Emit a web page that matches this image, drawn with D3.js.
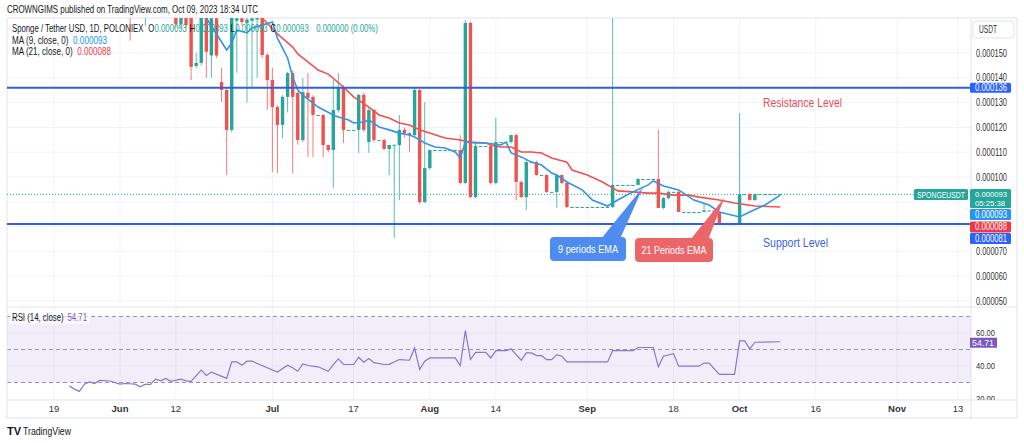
<!DOCTYPE html>
<html>
<head>
<meta charset="utf-8">
<script src="https://cdnjs.cloudflare.com/ajax/libs/d3/7.8.5/d3.min.js"></script>
<style>
	body { margin: 0; background: #fff; }
	svg { display: block; font-family: "Liberation Sans", Arial, sans-serif; }
</style>
</head>
<body>
<svg id="chart" width="1024" height="443"></svg>
<script>
// daily candles from Jun 1 2023, prices in millionths of a USDT
var firstDay = "2023-06-01"
var opens = [190,185,176,170,168,167,172,168,166,169,167,166,161.7,166,165,144.8,146,165,149,164,
	138.3,135.1,119,163,164,162,163,163.5,165,149.2,139.1,128.2,121,132.3,141.9,133.9,114.9,133.9,132.3,125,
	125,112.9,110.9,127,135.9,119,119,119,133.1,114.1,127,114.9,114.9,111.3,112.9,112.9,119,117.7,116.9,135.1,
	89.9,103.6,110.9,110.9,110.9,110.9,110.9,110.9,97.6,162.1,91.9,112.5,112.5,112.5,97.6,114.1,114.1,114.1,116.9,98,
	91.9,106,106,100.8,100.8,94,94,100.8,97.6,87.9,87.9,87.9,87.9,87.9,87.9,87.9,87.9,87.9,96.8,96.8,
	96.8,96.8,96.8,99.2,99.2,99.2,99.2,87.5,91.5,94,94,85.9,85.9,85.9,85.9,85.9,86.5,86.5,85.5,81,
	81,81,81,93.1,93.1,90.7,93.1,93.1,93.1,93.1,93.1]
var highs = [195,188,180,174,172,175,176,171,170,172,170,168,168,168,167,150,168,167,166,166,
	143.9,136,166,166,166,166,166,166,166,150,144,129,133,142.5,143,134.5,139.9,141.9,133,125,
	125.5,113,139.1,141.9,137,119,119,133.5,134,128,127.5,114.9,115.5,112.9,113,125,120,118,136,135.5,
	130.2,111,110.9,110.9,110.9,110.9,110.9,116.9,163.3,162.5,114,112.5,112.5,113,123.8,114.1,114.1,117,117.5,98.5,
	107,106,106.5,100.8,101,94,101,101,98,87.9,87.9,87.9,87.9,87.9,87.9,87.9,87.9,164,96.8,96.8,
	96.8,96.8,99.5,99.2,99.2,99.2,119,92,94.5,94,94.5,85.9,85.9,85.9,85.9,89.5,86.5,86.5,86,81,
	81,81,125.8,93.1,93.5,93.1,93.1,93.1,93.1,93.1,93.1]
var lows = [180,172,155,166,165,161,166,165,165,166,165,160,160,160,139,144,145,140,140,148,
	130.2,100.8,118,142,161,130,136,140,148,127,102,101.6,115.7,126,101.6,113,114,108.1,108.1,125,
	108,110,95.6,126,113.7,119,119,109.7,118,109.7,114,114.9,111,100.8,75.4,90.7,116,110,116,89,
	89.5,103,110.9,110.9,110.9,110.9,110.9,97,97,91.5,91.5,112.5,112.5,97,97,114.1,114.1,113.5,90.7,91.5,
	86.7,106,100.5,100.8,93.5,94,87.5,97,87.5,87.9,87.9,87.9,87.9,87.9,87.9,87.9,87.9,87.5,96.8,96.8,
	96.8,96.8,96.8,99.2,99.2,99.2,87.5,87,91,94,85.9,85.9,85.9,85.9,85.9,85.9,86.5,85,81,81,
	81,81,81,93.1,90.5,90.5,93.1,93.1,93.1,93.1,93.1]
var closes = [185,176,170,168,167,172,168,166,169,167,166,161.7,166,161.3,144.4,146,165,150.5,164,149,
	135.1,119,165,164,162.5,163.5,164,164.5,149.2,139.1,128.2,121,132.3,141.9,132.3,114.9,134.3,131.9,125,125,
	112.9,110.9,127,135.9,119,119,119,133.1,119,127,114.9,114.9,111.3,112.9,113,119,117.7,116.9,135.1,89.9,
	103.6,110.9,110.9,110.9,110.9,110.9,110.9,97.6,162.1,91.9,112.5,112.5,112.5,97.6,114.1,114.1,114.1,116.9,98,91.9,
	106,106,100.8,100.8,94,94,100.8,97.6,87.9,87.9,87.9,87.9,87.9,87.9,87.9,87.9,87.9,96.8,96.8,96.8,
	96.8,96.8,99.2,99.2,99.2,99.2,87.5,91.5,94,94,85.9,85.9,85.9,85.9,85.9,86.5,86.5,85.5,81,81,
	81,81,93.1,93.1,90.7,93.1,93.1,93.1,93.1,93.1,93.1]

// moving averages (day offset from Jun 1, value)
var ma9Days = [10,14,17,21,22,23,25,26,28,30,31,33,34,35,36,38,39,42,43,45,46,48,49,51,53,55,57,58,60,62,
	64,66,67,68,70,72,75,76,77,79,81,83,85,86,88,91,93,96,98,101,104,105,107,110,113,116,118,122,124,127,130]
var ma9Values = [185,172,164.1,151.2,154,159.3,158.1,160.1,161.3,162.5,156,148,140.3,135.1,133,129.8,128.2,125,124.2,123,
	121.8,122.2,123,120.2,119,117.7,116.9,116.1,113.7,112.1,111.7,110.1,107.7,114.1,113.7,113.7,112.9,114.1,109.7,108.1,
	106,104.8,101.6,100.8,98,94.8,90.7,88.3,90.7,94,96.8,98.4,96.4,94.8,90.7,88.7,85.9,83.9,85.9,88.7,92.7]
var ma21Days = [22,28,31,34,35,37,39,41,44,46,49,51,53,55,57,59,62,64,67,69,72,73,75,77,79,81,83,85,88,89,
	92,95,97,98,101,104,106,109,112,114,118,121,125,130]
var ma21Values = [172,164.1,157.7,152.4,149.6,146.4,143.1,141.5,136.3,132.3,128.2,125,123.8,121.8,121,119,117,115.7,114.9,114.1,
	113.7,112.9,112.1,112.1,110.1,110.1,109.7,107.7,106,102.8,100.8,98,95.6,94.4,94,93.5,93.5,92.7,92.7,91.9,90.7,89.5,88.3,87.9]

// RSI (14, close)
var rsiDays = [-10,-9,-8,-7,-6,-5,-4,-2,0,1,3,4,5,6,7,8,9,10,12,13,14,16,17,18,21,22,23,24,25,26,
	31,33,34,35,36,37,39,41,42,43,44,46,47,48,49,50,52,53,55,57,58,59,60,61,66,67,68,69,70,72,
	73,74,76,77,78,79,80,81,82,83,84,85,86,87,88,96,97,101,102,105,106,107,109,110,114,115,116,118,121,122,
	123,124,125,130]
var rsiValues = [28,26,24.6,29,30.3,29.4,31.3,30.9,29,29.4,29,27.4,29,28.8,32,31,32.5,30.7,32,31,30.7,37.5,34.3,36.3,32.5,42.5,42.5,40.5,42.9,42.9,
	36.3,40.5,38.9,36.8,41.2,40.3,39.5,36.8,40.9,44.3,40.9,40.9,45.3,42.3,44.5,42,40.9,41,43.9,43.5,50.9,37.9,42.9,44.9,44.9,40.3,61.4,43.9,48.3,48.3,
	44.9,49.3,49.3,50.3,46.9,43.5,47.9,47.9,46.3,46.3,43.9,43.9,46.9,45.9,42.5,42.5,49.3,49.3,51.2,51.2,39.5,45.9,47.5,39.9,39.9,41.8,41.8,34.9,34.9,55.2,
	55.2,50.4,54.4,54.7]

var resistance = 136
var support = 81
var lastPrice = 93
var lastMa9 = 93
var lastMa21 = 88
var lastRsi = 54.71

var priceTicks = [50,60,70,80,90,100,110,120,130,140,150]
var rsiTicks = [20,40,60]
var timeTicks = ["2023-05-19","2023-06-01","2023-06-12","2023-07-01","2023-07-17","2023-08-01","2023-08-14",
	"2023-09-01","2023-09-18","2023-10-01","2023-10-16","2023-11-01","2023-11-13"]

var green = "#26a69a", red = "#ef5350", lineBlue = "#2f5fe0"

var left = 7, axisX = 971, right = 1017
var paneTop = 18, paneBottom = 307, rsiBottom = 400, timeBottom = 418

var svg = d3.select("#chart")
var parse = d3.utcParse("%Y-%m-%d")
var start = parse(firstDay)
var fmt6 = d3.format(".6f")
function dayDate(d){ return d3.utcDay.offset(start, d) }
function micro(v){ return fmt6(v / 1e6) }

// squeeze a text to the width it takes in the reference
function fit(sel, w){
	return sel.attr("textLength", w).attr("lengthAdjust", "spacingAndGlyphs")
}

// lay pieces out one after another, then squeeze the whole row horizontally
function textRow(x0, y0, pieces, width, size){
	var g = svg.append("g")
	var cx = 0
	pieces.forEach(function(p){
		var t = g.append("text").attr("x", cx).attr("y", 0).text(p.text)
			.style("font-size", size + "px").style("fill", p.color || "#131722")
		cx += t.node().getComputedTextLength() + (p.gap || 0)
	})
	var used = cx - (pieces[pieces.length - 1].gap || 0)
	g.attr("transform", "translate(" + x0 + "," + y0 + ") scale(" + (width / used) + ",1)")
	return g
}

var x = d3.scaleUtc()
	.domain([start, parse("2023-11-13")])
	.range([120, 958])
var y = d3.scaleLinear()
	.domain([100, 50])
	.range([177, 301])
var yr = d3.scaleLinear()
	.domain([60, 20])
	.range([333, 399])

var defs = svg.append("defs")
defs.append("clipPath").attr("id", "priceClip")
	.append("rect").attr("x", left).attr("y", paneTop).attr("width", axisX - left).attr("height", paneBottom - paneTop)
defs.append("clipPath").attr("id", "rsiClip")
	.append("rect").attr("x", left).attr("y", paneBottom).attr("width", right - left).attr("height", rsiBottom - paneBottom)

// grid
svg.append("g").selectAll("line")
	.data(timeTicks)
	.enter().append("line")
	.attr("x1", function(d){ return x(parse(d)) })
	.attr("x2", function(d){ return x(parse(d)) })
	.attr("y1", paneTop).attr("y2", rsiBottom)
	.style("stroke", "#f0f3fa")
svg.append("g").selectAll("line")
	.data(priceTicks)
	.enter().append("line")
	.attr("x1", left).attr("x2", axisX)
	.attr("y1", function(d){ return y(d) }).attr("y2", function(d){ return y(d) })
	.style("stroke", "#f0f3fa")

// rsi band
svg.append("rect")
	.attr("x", left).attr("width", axisX - left)
	.attr("y", yr(70)).attr("height", yr(30) - yr(70))
	.style("fill", "rgba(126,87,194,0.1)")
svg.append("line").attr("x1", left).attr("x2", axisX).attr("y1", yr(60)).attr("y2", yr(60)).style("stroke", "#ebe6f5")
svg.append("line").attr("x1", left).attr("x2", axisX).attr("y1", yr(40)).attr("y2", yr(40)).style("stroke", "#ebe6f5")
svg.append("g").selectAll("line")
	.data([70, 50, 30])
	.enter().append("line")
	.attr("x1", left).attr("x2", axisX)
	.attr("y1", function(d){ return yr(d) }).attr("y2", function(d){ return yr(d) })
	.style("stroke", "#9598a1").style("stroke-dasharray", "4,3")

// frame
svg.append("rect").attr("x", left).attr("y", paneTop).attr("width", right - left).attr("height", timeBottom - paneTop)
	.style("fill", "none").style("stroke", "#e0e3eb")
svg.append("line").attr("x1", axisX).attr("x2", axisX).attr("y1", paneTop).attr("y2", timeBottom).style("stroke", "#e0e3eb")
svg.append("line").attr("x1", left).attr("x2", right).attr("y1", paneBottom).attr("y2", paneBottom).style("stroke", "#e0e3eb")
svg.append("line").attr("x1", left).attr("x2", right).attr("y1", rsiBottom).attr("y2", rsiBottom).style("stroke", "#e0e3eb")

var price = svg.append("g").attr("clip-path", "url(#priceClip)")

// current price dotted line
price.append("line")
	.attr("x1", left).attr("x2", axisX)
	.attr("y1", y(lastPrice)).attr("y2", y(lastPrice))
	.style("stroke", green).style("stroke-dasharray", "1,2")

// candles
var candles = closes.map(function(c, i){
	return { date: dayDate(i), o: opens[i], h: highs[i], l: lows[i], c: c }
})
var bodyW = 3.4
var candle = price.append("g").selectAll("g")
	.data(candles)
	.enter().append("g")
candle.append("line")
	.attr("x1", function(d){ return x(d.date) })
	.attr("x2", function(d){ return x(d.date) })
	.attr("y1", function(d){ return y(d.h) })
	.attr("y2", function(d){ return y(d.l) })
	.style("stroke", function(d){ return d.c >= d.o ? green : red })
	.style("stroke-width", 1)
	.style("opacity", 0.75)
candle.append("rect")
	.attr("x", function(d){ return x(d.date) - bodyW / 2 })
	.attr("width", bodyW)
	.attr("y", function(d){ return y(Math.max(d.o, d.c)) })
	.attr("height", function(d){ return Math.max(1, Math.abs(y(d.o) - y(d.c))) })
	.style("fill", function(d){ return d.c >= d.o ? green : red })

// moving averages
var maLine = d3.line()
	.x(function(d){ return x(dayDate(d[0])) })
	.y(function(d){ return y(d[1]) })
price.append("path")
	.datum(ma21Days.map(function(d, i){ return [d, ma21Values[i]] }))
	.attr("d", maLine)
	.style("fill", "none").style("stroke", "#f0524f").style("stroke-width", 1.6)
price.append("path")
	.datum(ma9Days.map(function(d, i){ return [d, ma9Values[i]] }))
	.attr("d", maLine)
	.style("fill", "none").style("stroke", "#2f95e8").style("stroke-width", 1.6)

// support / resistance
price.selectAll(".level")
	.data([resistance, support])
	.enter().append("line")
	.attr("class", "level")
	.attr("x1", left).attr("x2", axisX)
	.attr("y1", function(d){ return y(d) }).attr("y2", function(d){ return y(d) })
	.style("stroke", lineBlue).style("stroke-width", 2)

fit(svg.append("text").attr("x", 763).attr("y", y(resistance) + 19)
	.text("Resistance Level").style("fill", "#ec4d55").style("font-size", "12.5px"), 79)
fit(svg.append("text").attr("x", 763).attr("y", y(support) + 23)
	.text("Support Level").style("fill", "#3d63e0").style("font-size", "12.5px"), 65)

// callouts
var callouts = [
	{ text: "9 periods EMA", fill: "#4f8cf0", tipDay: 103, tipPrice: 96, bx: 550, by: 237, bw: 76, bh: 24, tw: 60, tailA: 601, tailB: 620 },
	{ text: "21 Periods EMA", fill: "#ea6668", tipDay: 119, tipPrice: 91.6, bx: 635, by: 238, bw: 78, bh: 24, tw: 65, tailA: 690, tailB: 708 }
]
var call = svg.append("g").selectAll("g")
	.data(callouts)
	.enter().append("g")
call.append("path")
	.attr("d", function(d){
		var tx = x(dayDate(d.tipDay)), ty = y(d.tipPrice)
		return "M" + d.tailA + "," + (d.by + 2) + "L" + tx + "," + ty + "L" + d.tailB + "," + (d.by + 2) + "Z"
	})
	.style("fill", function(d){ return d.fill })
call.append("rect")
	.attr("x", function(d){ return d.bx }).attr("y", function(d){ return d.by })
	.attr("width", function(d){ return d.bw }).attr("height", function(d){ return d.bh })
	.attr("rx", 4)
	.style("fill", function(d){ return d.fill })
call.append("text")
	.attr("x", function(d){ return d.bx + (d.bw - d.tw) / 2 }).attr("y", function(d){ return d.by + d.bh / 2 + 4 })
	.attr("textLength", function(d){ return d.tw }).attr("lengthAdjust", "spacingAndGlyphs")
	.text(function(d){ return d.text })
	.style("fill", "#fff").style("font-size", "11.5px")

// rsi line
svg.append("g").attr("clip-path", "url(#rsiClip)").append("path")
	.datum(rsiDays.map(function(d, i){ return [d, rsiValues[i]] }))
	.attr("d", d3.line()
		.x(function(d){ return x(dayDate(d[0])) })
		.y(function(d){ return yr(d[1]) }))
	.style("fill", "none").style("stroke", "#8a76d0").style("stroke-width", 1.2)

// price axis (0.000080 / 0.000090 sit behind the coloured tags)
var tagTop = 188, tagBottom = 245
svg.append("g").selectAll("text")
	.data(priceTicks.filter(function(d){ return y(d) < tagTop || y(d) > tagBottom }))
	.enter().append("text")
	.attr("x", 976).attr("y", function(d){ return y(d) + 3.5 })
	.attr("textLength", 31).attr("lengthAdjust", "spacingAndGlyphs")
	.text(function(d){ return micro(d) })
	.style("fill", "#333").style("font-size", "10px")
svg.append("g").attr("clip-path", "url(#rsiClip)").selectAll("text")
	.data(rsiTicks)
	.enter().append("text")
	.attr("x", 976).attr("y", function(d){ return yr(d) + 2.5 })
	.attr("textLength", 19).attr("lengthAdjust", "spacingAndGlyphs")
	.text(function(d){ return d3.format(".2f")(d) })
	.style("fill", "#333").style("font-size", "9.5px")

svg.append("rect").attr("x", 973).attr("y", 21).attr("width", 41).attr("height", 17).attr("rx", 3)
	.style("fill", "#fff").style("stroke", "#e0e3eb")
fit(svg.append("text").attr("x", 979).attr("y", 33).text("USDT").style("fill", "#333").style("font-size", "10px"), 18)

function priceTag(yc, h, bg, lines){
	var g = svg.append("g")
	g.append("rect").attr("x", 970).attr("y", yc - h / 2).attr("width", 41).attr("height", h).attr("rx", 1.5)
		.style("fill", bg)
	var two = lines.length > 1
	lines.forEach(function(t, i){
		fit(g.append("text").attr("x", 975).attr("y", yc - h / 2 + (two ? 7.5 + i * 9.5 : 8.5)).text(t)
			.style("fill", "#fff").style("font-size", two ? "8px" : "10px"), i ? 30 : 32)
	})
}
priceTag(y(resistance), 10, "#2962ff", [micro(resistance)])
priceTag(198.5, 19, green, [micro(lastPrice), "05:25:38"])
priceTag(214.5, 11, "#2196f3", [micro(lastMa9)])
priceTag(227, 11, "#f23645", [micro(lastMa21)])
priceTag(238.5, 11, "#2962ff", [micro(support)])

// symbol label left of the axis, squeezed as a group so it ends before the axis
svg.append("rect").attr("x", 914).attr("y", 189).attr("width", 54).attr("height", 11).attr("rx", 1.5).style("fill", green)
textRow(917, 197.5, [{ text: "SPONGEUSDT", color: "#fff" }], 48, 9.5)

svg.append("rect").attr("x", 970).attr("y", yr(lastRsi) - 4).attr("width", 27).attr("height", 10).style("fill", "#7e57c2")
fit(svg.append("text").attr("x", 972).attr("y", yr(lastRsi) + 4.3).text(d3.format(".2f")(lastRsi))
	.style("fill", "#fff").style("font-size", "8.5px"), 22)

// time axis
var monthFmt = d3.utcFormat("%b"), dayFmt = d3.utcFormat("%-d")
svg.append("g").selectAll("text")
	.data(timeTicks)
	.enter().append("text")
	.attr("x", function(d){ return x(parse(d)) })
	.attr("y", 412)
	.attr("text-anchor", "middle")
	.text(function(d){ var t = parse(d); return t.getUTCDate() === 1 ? monthFmt(t) : dayFmt(t) })
	.style("fill", "#333").style("font-size", "9.5px")
	.style("font-weight", function(d){ return parse(d).getUTCDate() === 1 ? "bold" : "normal" })

// header and legends
fit(svg.append("text").attr("x", 7).attr("y", 13)
	.text("CROWNGIMS published on TradingView.com, Oct 09, 2023 18:34 UTC")
	.style("fill", "#131722").style("font-size", "11px"), 251)

var ohlcRow = [{ text: "Sponge / Tether USD, 1D, POLONIEX", gap: 6 }]
;["O", "H", "L", "C"].forEach(function(k){
	ohlcRow.push({ text: k, gap: 0.5 })
	ohlcRow.push({ text: micro(lastPrice), color: green, gap: 3.5 })
})
ohlcRow[ohlcRow.length - 1].gap = 10
ohlcRow.push({ text: "0.000000 (0.00%)", color: green })
textRow(12, 32, ohlcRow, 366, 10.5)

textRow(12, 44, [{ text: "MA (9, close, 0)", gap: 6 }, { text: micro(lastMa9), color: "#2196f3" }], 95, 10.5)
textRow(12, 55, [{ text: "MA (21, close, 0)", gap: 6 }, { text: micro(lastMa21), color: "#f23645" }], 99, 10.5)

svg.append("rect").attr("x", 10).attr("y", 312).attr("width", 80).attr("height", 12).style("fill", "rgba(255,255,255,0.6)")
textRow(12, 321, [{ text: "RSI (14, close)", gap: 5 }, { text: d3.format(".2f")(lastRsi), color: "#7e57c2" }], 75, 10.5)

// footer logo
var logo = svg.append("g")
logo.append("text").attr("x", 7).attr("y", 435).text("TV").style("font-size", "11px").style("font-weight", "bold").style("fill", "#131722")
fit(logo.append("text").attr("x", 23).attr("y", 435).text("TradingView").style("font-size", "11.5px").style("fill", "#131722"), 48)
</script>
</body>
</html>
